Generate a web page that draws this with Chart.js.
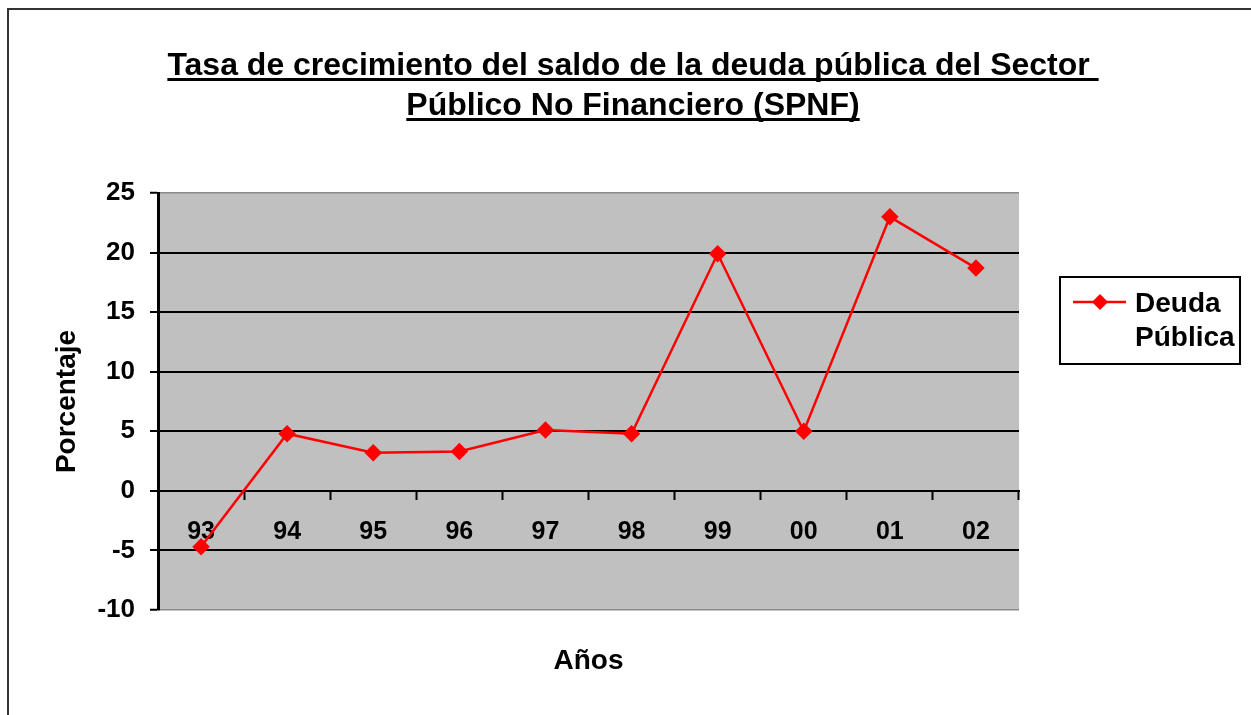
<!DOCTYPE html>
<html>
<head>
<meta charset="utf-8">
<script src="https://cdn.jsdelivr.net/npm/chart.js@4/dist/chart.umd.min.js"></script>
<style>
    body { margin: 0; background: #fff; }
    #contenedor { width: 1251px; height: 715px; position: relative; }
</style>
</head>
<body>
<div id="contenedor"><canvas id="grafica"></canvas></div>
<script>
const anios = ['93', '94', '95', '96', '97', '98', '99', '00', '01', '02']
const deudaPublica = [-4.7, 4.8, 3.2, 3.3, 5.1, 4.8, 19.9, 5.0, 23.0, 18.7]
const nombreSerie = ['Deuda', 'Pública']
const titulo = ['Tasa de crecimiento del saldo de la deuda pública del Sector ', 'Público No Financiero (SPNF)']
const tituloX = 'Años'
const tituloY = 'Porcentaje'

const fuente = "'Liberation Sans', Arial, sans-serif"
Chart.defaults.font.family = fuente
Chart.defaults.color = '#000'

// Fondo, marco exterior y área gris del gráfico
const fondo = {
    id: 'fondo',
    beforeDraw(chart) {
        const { ctx, chartArea: a } = chart
        ctx.save()
        ctx.fillStyle = '#fff'
        ctx.fillRect(0, 0, chart.width, chart.height)
        ctx.strokeStyle = '#333'
        ctx.lineWidth = 2
        ctx.strokeRect(8, 9, chart.width + 20, chart.height + 20)
        ctx.fillStyle = '#C0C0C0'
        ctx.fillRect(a.left, a.top, a.right - a.left, a.bottom - a.top)
        ctx.restore()
    }
}

// Título subrayado
const tituloSubrayado = {
    id: 'tituloSubrayado',
    afterDraw(chart) {
        const { ctx } = chart
        ctx.save()
        ctx.font = `bold 32px ${fuente}`
        ctx.fillStyle = '#000'
        ctx.textAlign = 'center'
        ctx.textBaseline = 'alphabetic'
        const cx = 633
        titulo.forEach((linea, i) => {
            const y = 75 + i * 40
            ctx.fillText(linea, cx, y)
            const w = ctx.measureText(linea).width
            ctx.fillRect(cx - w / 2, y + 3, w, 3)
        })
        ctx.restore()
    }
}

// Leyenda con recuadro
const leyenda = {
    id: 'leyenda',
    afterDraw(chart) {
        const { ctx } = chart
        const color = chart.data.datasets[0].borderColor
        ctx.save()
        ctx.strokeStyle = '#000'
        ctx.lineWidth = 2
        ctx.strokeRect(1060, 277, 180, 87)
        ctx.strokeStyle = color
        ctx.lineWidth = 2.5
        ctx.beginPath()
        ctx.moveTo(1073, 302)
        ctx.lineTo(1126, 302)
        ctx.stroke()
        ctx.fillStyle = color
        ctx.beginPath()
        ctx.moveTo(1100, 294)
        ctx.lineTo(1108, 302)
        ctx.lineTo(1100, 310)
        ctx.lineTo(1092, 302)
        ctx.closePath()
        ctx.fill()
        ctx.fillStyle = '#000'
        ctx.font = `bold 28px ${fuente}`
        ctx.textBaseline = 'middle'
        nombreSerie.forEach((t, i) => ctx.fillText(t, 1135, 304 + i * 34))
        ctx.restore()
    }
}

const ctx = document.getElementById('grafica').getContext('2d')
new Chart(ctx, {
    type: 'line',
    data: {
        labels: anios,
        datasets: [{
            label: nombreSerie.join(' '),
            data: deudaPublica,
            borderColor: '#FF0000',
            backgroundColor: '#FF0000',
            borderWidth: 2.5,
            pointStyle: 'rectRot',
            pointRadius: 7,
            pointHoverRadius: 7,
            pointBackgroundColor: '#FF0000',
            pointBorderColor: '#FF0000',
            tension: 0,
            clip: false,
            xAxisID: 'x',
            yAxisID: 'y'
        }]
    },
    options: {
        responsive: true,
        maintainAspectRatio: false,
        animation: false,
        layout: { padding: { top: 193, right: 232, bottom: 0, left: 0 } },
        plugins: {
            legend: { display: false },
            title: { display: false },
            tooltip: { enabled: false }
        },
        scales: {
            y: {
                min: -10,
                max: 25,
                position: 'left',
                afterFit: s => { s.width = 158 },
                ticks: { stepSize: 5, padding: 15, font: { size: 26, weight: 'bold' }, color: '#000' },
                grid: {
                    color: c => (c.tick && (c.tick.value === 25 || c.tick.value === -10)) ? '#8a8a8a' : '#000',
                    lineWidth: c => (c.tick && (c.tick.value === 25 || c.tick.value === -10)) ? 1.5 : 2,
                    tickColor: '#000',
                    tickWidth: 2,
                    tickLength: 8
                },
                border: { color: '#000', width: 3 },
                title: {
                    display: true,
                    text: tituloY,
                    font: { size: 28, weight: 'bold' },
                    color: '#000',
                    padding: { top: 50, bottom: 0 }
                }
            },
            x: {
                type: 'category',
                position: { y: 0 },
                offset: true,
                ticks: { font: { size: 25, weight: 'bold' }, color: '#000', padding: 18, maxRotation: 0, autoSkip: false },
                grid: { offset: true, drawOnChartArea: false, drawTicks: true, tickLength: 8, tickColor: '#000', tickWidth: 2 },
                border: { color: '#000', width: 2 }
            },
            x2: {
                type: 'category',
                position: 'bottom',
                afterFit: s => { s.height = 105 },
                ticks: { display: false },
                grid: { display: false },
                border: { display: false },
                title: {
                    display: true,
                    text: tituloX,
                    font: { size: 28, weight: 'bold' },
                    color: '#000',
                    padding: { top: 0, bottom: 37 }
                }
            }
        }
    },
    plugins: [fondo, tituloSubrayado, leyenda]
})
</script>
</body>
</html>
